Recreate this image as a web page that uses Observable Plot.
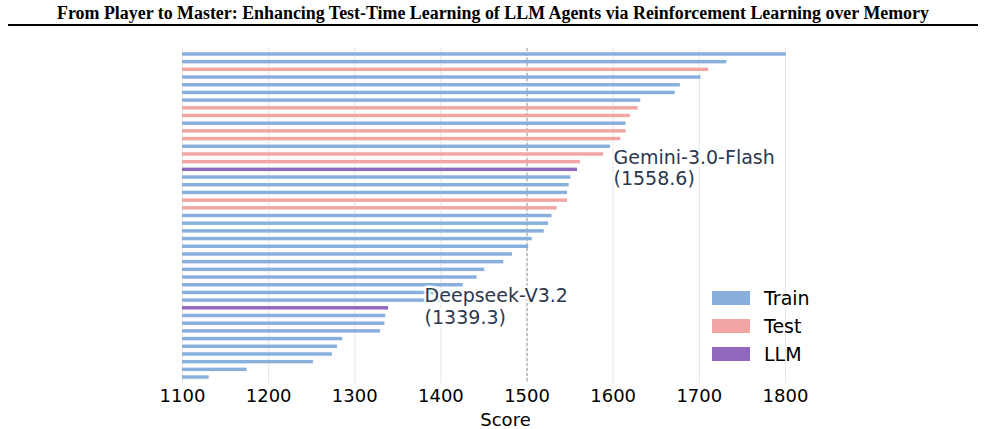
<!DOCTYPE html>
<html>
<head>
<meta charset="utf-8">
<script src="https://cdn.jsdelivr.net/npm/d3@7"></script>
<script src="https://cdn.jsdelivr.net/npm/@observablehq/plot@0.6"></script>
<style>
  html, body { margin: 0; padding: 0; background: #fff; }
  #page { position: relative; width: 985px; height: 429px; overflow: hidden; }
  #title { position: absolute; left: 8px; width: 970px; top: 0; height: 24px; border-bottom: 2px solid #000;
    font-family: "Liberation Serif", "Times New Roman", serif; font-weight: bold; font-size: 17.9px;
    text-align: center; line-height: 26px; color: #000; white-space: nowrap; }
  #chart { position: absolute; left: 0; top: 28px; }
  #legend { position: absolute; left: 712px; top: 284px; font-family: "DejaVu Sans", sans-serif; font-size: 19px; color: #000; }
  .row { display: flex; align-items: center; height: 28px; }
  .sw { width: 38px; height: 14px; margin-right: 14px; }
</style>
</head>
<body>
<div id="page">
  <div id="title">From Player to Master: Enhancing Test-Time Learning of LLM Agents via Reinforcement Learning over Memory</div>
  <div id="chart"></div>
  <div id="legend"></div>
</div>
<script>
// Scores of every agent/model, sorted descending (top bar first)
const scores = [1801, 1732, 1711, 1702, 1678, 1672, 1632, 1629, 1620, 1615, 1615, 1609, 1597, 1589, 1562,
  1558.6, 1551, 1549, 1547, 1547, 1535, 1529, 1525, 1520, 1506, 1502, 1483, 1473, 1451, 1442,
  1426, 1415, 1400, 1339.3, 1336, 1335, 1330, 1286, 1280, 1274, 1252, 1175, 1131];
const groups = ["Train","Train","Test","Train","Train","Train","Train","Test","Test","Train","Test","Test","Train","Test","Test",
  "LLM","Train","Train","Train","Test","Test","Train","Train","Train","Train","Train","Train","Train","Train","Train",
  "Train","Train","Train","LLM","Train","Train","Train","Train","Train","Train","Train","Train","Train"];
const llmNames = ["Gemini-3.0-Flash", "Deepseek-V3.2"];
const legendKeys = ["Train", "Test", "LLM"];
const legendColors = ["#89b0dc", "#f2a5a5", "#9069bf"];
const xTicks = [1100, 1200, 1300, 1400, 1500, 1600, 1700, 1800];
const refScore = 1500;

const data = scores.map((s, i) => ({rank: i, score: s, group: groups[i]}));
let k = 0;
const llms = data.filter(d => d.group === "LLM").map(d => ({...d, name: llmNames[k++]}));

const chart = Plot.plot({
  width: 985,
  height: 401,
  marginLeft: 182,
  marginRight: 157,
  marginTop: 20,
  marginBottom: 46,
  style: {fontFamily: "DejaVu Sans, sans-serif", background: "transparent"},
  x: {domain: [1100, 1850], ticks: xTicks, tickFormat: d => String(d)},
  y: {domain: d3.range(scores.length), padding: 0.55, round: false, axis: null},
  color: {domain: legendKeys, range: legendColors},
  marks: [
    Plot.gridX(xTicks, {stroke: "#e6e6e6", strokeOpacity: 1, strokeWidth: 1}),
    Plot.ruleX([refScore], {stroke: "#9a9a9a", strokeWidth: 1, strokeDasharray: "3,2"}),
    Plot.barX(data, {x1: 1100, x2: "score", y: "rank", fill: "group"}),
    Plot.text(llms, {x: "score", y: "rank", text: d => `${d.name}\n(${d.score.toFixed(1)})`,
      textAnchor: "start", dx: 36, dy: -2, lineAnchor: "middle", lineHeight: 1.12,
      fontSize: 19, fill: "#2c3850", stroke: "white", strokeWidth: 5, strokeOpacity: 0.85}),
    Plot.axisX(xTicks, {tickSize: 0, tickPadding: 6, fontSize: 18, fill: "#000", tickFormat: d => String(d),
      label: "Score", labelAnchor: "center", labelArrow: "none", labelOffset: 42})
  ]
});
document.getElementById("chart").appendChild(chart);
chart.querySelectorAll("[aria-label='x-axis label'] text, [aria-label='x-axis tick label'] text").forEach(t => t.style.fontSize = "18px");

const leg = document.getElementById("legend");
legendKeys.forEach((key, i) => {
  const row = document.createElement("div");
  row.className = "row";
  row.innerHTML = `<div class="sw" style="background:${legendColors[i]}"></div><span>${key}</span>`;
  leg.appendChild(row);
});
</script>
</body>
</html>
